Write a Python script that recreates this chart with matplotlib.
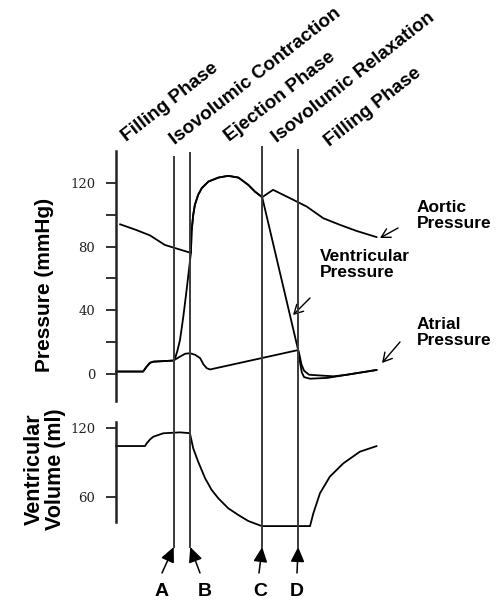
import matplotlib
matplotlib.use("Agg")
import matplotlib.pyplot as plt
from matplotlib.patches import FancyArrowPatch
from matplotlib.transforms import blended_transform_factory

# time in ms, pressures in mmHg, volume in ml
vent_t = [0, 82, 93, 103, 113, 174, 179, 186, 194, 204, 214, 221, 227, 229, 234, 239, 249,
          260, 280, 310, 340, 371, 401, 421, 443, 552, 557, 563, 570, 588, 640, 700, 760, 790]
vent_p = [1.5, 1.5, 4.6, 7, 7.7, 8.4, 9.8, 14.5, 21.4, 36, 52.8, 65.3, 76, 89.4, 99.9, 106.2,
          112.5, 116.7, 120.8, 123.3, 124.4, 123.3, 118.7, 114.5, 111, 15, 8, 1, -2, -3, -2.5,
          -0.5, 1.5, 2.5]

aort_t = [12, 60, 103, 148, 227, 229, 234, 239, 249, 260, 280, 310, 340, 371, 401, 421, 443,
          476, 527, 578, 628, 679, 729, 790]
aort_p = [94, 90.5, 87, 81, 76, 89.4, 99.9, 106.2, 112.5, 116.7, 120.8, 123.3, 124.4, 123.3,
          118.7, 114.5, 111, 115.6, 110.4, 105.1, 97.8, 93.6, 89.8, 85.9]

atr_t = [0, 82, 93, 103, 113, 174, 195, 210, 224, 240, 255, 265, 275, 285, 552, 556, 562,
         570, 585, 620, 660, 700, 760, 790]
atr_p = [1.5, 1.5, 4.6, 7, 7.7, 8.4, 11, 12.7, 13, 12, 9.9, 6, 3.6, 2.8, 15, 12, 6,
         2, -0.5, -1, -1.5, -0.5, 1.5, 2.5]

vol_t = [0, 88, 93, 103, 113, 143, 194, 224, 234, 249, 270, 290, 310, 340, 371, 401, 442,
         588, 598, 618, 648, 689, 739, 790]
vol_v = [104.3, 104.3, 106.7, 110, 112.4, 115.4, 116.2, 115.5, 102.3, 90.7, 76.3, 66.1, 58.9,
         50.2, 44.3, 39.1, 34.7, 34.7, 45.8, 63.2, 77.7, 89.3, 99.4, 104.3]

markers = ["A", "B", "C", "D"]
marker_t = [175, 225, 443, 552]
marker_top = [157, 153, 147, 150]          # top of the vertical line, px from top

phases = ["Filling Phase", "Isovolumic Contraction", "Ejection Phase",
          "Isovolumic Relaxation", "Filling Phase"]
phase_xy = [(127, 142), (175, 145), (230, 142), (277, 143), (330, 147)]

p_ticks = [0, 40, 80, 120]
p_minor = [20, 60, 100]
v_ticks = [60, 120]

W, H = 496, 600
SANS = "Liberation Sans"


def fp(x, y):
    # pixel from top-left -> figure fraction
    return x / W, (H - y) / H


fig = plt.figure(figsize=(W / 100, H / 100), dpi=100)
ax_p = fig.add_axes([116 / W, (H - 401) / H, 264 / W, 250 / H])
ax_v = fig.add_axes([116 / W, (H - 531.5) / H, 264 / W, 110.4 / H])

for ax in (ax_p, ax_v):
    ax.set_xlim(0, 800)
    ax.patch.set_visible(False)
    for s in ("top", "right", "bottom"):
        ax.spines[s].set_visible(False)
    ax.spines["left"].set_linewidth(1.8)
    ax.spines["left"].set_color("#222222")
    ax.set_xticks([])
    ax.tick_params(axis="y", which="both", direction="out", length=7, width=1.3, pad=8,
                   labelsize=9.5, colors="#222222")

ax_p.set_ylim(-17, 140)
ax_p.set_yticks(p_ticks)
ax_p.set_yticks(p_minor, minor=True)
ax_p.set_yticklabels([str(v) for v in p_ticks], family="DejaVu Serif")

ax_v.set_ylim(30, 126)
ax_v.spines["left"].set_bounds(38, 125)
ax_v.set_yticks(v_ticks)
ax_v.set_yticklabels([str(v) for v in v_ticks], family="DejaVu Serif")

kw = dict(color="black", lw=1.3, clip_on=False, solid_capstyle="round",
          solid_joinstyle="round")
ax_p.plot(aort_t, aort_p, **kw)
ax_p.plot(atr_t, atr_p, **kw)
ax_p.plot(vent_t, vent_p, **kw)
ax_v.plot(vol_t, vol_v, **kw)

# vertical event lines spanning both panels
tr = blended_transform_factory(ax_p.transData, fig.transFigure)
for t, top in zip(marker_t, marker_top):
    fig.add_artist(plt.Line2D([t, t], [(H - 547) / H, (H - top) / H], transform=tr,
                              color="#3a3a3a", lw=1.4))

fig.text(45 / W, (H - 285) / H, "Pressure (mmHg)", rotation=90, ha="center", va="center",
         family=SANS, fontweight="bold", fontsize=15)
fig.text(45 / W, (H - 469) / H, "Ventricular\nVolume (ml)", rotation=90, ha="center",
         va="center", family=SANS, fontweight="bold", fontsize=15.5, linespacing=1.05)

for name, (x, y) in zip(phases, phase_xy):
    fig.text(*fp(x, y), name, rotation=38, rotation_mode="anchor", ha="left", va="baseline",
             family=SANS, fontweight="bold", fontsize=13.7)

lab_kw = dict(ha="left", va="top", family=SANS, fontweight="bold", fontsize=12.5,
              linespacing=1.05)
fig.text(*fp(417, 200), "Aortic\nPressure", **lab_kw)
fig.text(*fp(320, 249), "Ventricular\nPressure", **lab_kw)
fig.text(*fp(417, 317), "Atrial\nPressure", **lab_kw)

for (x0, y0), (x1, y1) in [((398, 228), (380, 238)), ((310, 298), (293, 315)),
                           ((400, 342), (382, 363))]:
    fig.add_artist(FancyArrowPatch(
        fp(x0, y0), fp(x1, y1), transform=fig.transFigure,
        arrowstyle="->,head_length=0.45,head_width=0.25", mutation_scale=14,
        color="black", lw=1.0, shrinkA=0, shrinkB=0))

tail_x = [162, 200, 259, 297]
label_x = [162, 205, 260, 297]
for name, t, tx, lx in zip(markers, marker_t, tail_x, label_x):
    head = fig.transFigure.inverted().transform(tr.transform((t, (H - 547) / H)))
    fig.add_artist(FancyArrowPatch(
        fp(tx, 573), tuple(head), transform=fig.transFigure,
        arrowstyle="-|>,head_length=0.9,head_width=0.42", mutation_scale=10,
        color="black", lw=1.1, shrinkA=0, shrinkB=0))
    fig.text(*fp(lx, 596), name, ha="center", va="baseline", family=SANS,
             fontweight="bold", fontsize=14)

fig.savefig("out.png", dpi=100)
